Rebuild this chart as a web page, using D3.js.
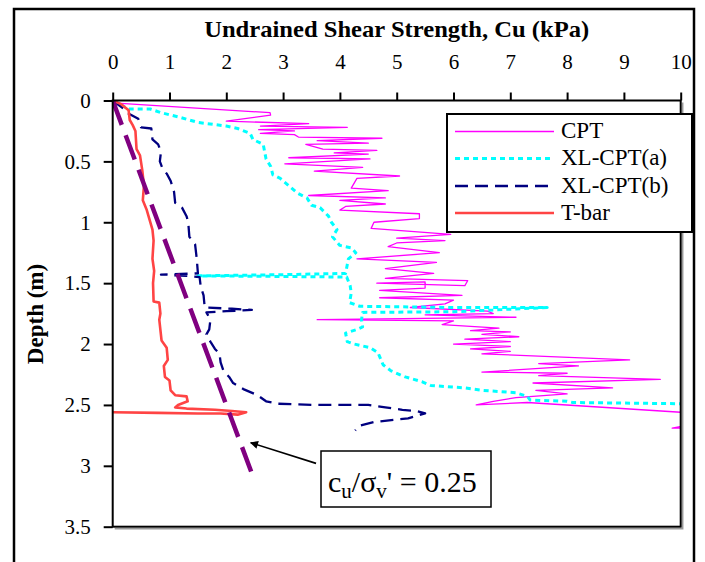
<!DOCTYPE html>
<html><head><meta charset="utf-8">
<script src="https://cdn.jsdelivr.net/npm/d3@7"></script>
<style>html,body{margin:0;padding:0;background:#fff;}svg{display:block;}
text{font-family:"Liberation Serif","Times New Roman",Tinos,serif !important;}</style>
</head><body>
<script>
// ---- DATA: [Cu (kPa), depth (m)] ----
const xTicks = [0,1,2,3,4,5,6,7,8,9,10];
const yTicks = [0,0.5,1,1.5,2,2.5,3,3.5];
const seriesNames = ["CPT","XL-CPT(a)","XL-CPT(b)","T-bar"];

const cpt = [[0,0],[0,0.02],[0.7,0.04],[2.77,0.1],[2.78,0.12],[2.0,0.17],[3.45,0.19],[2.6,0.21],[4.13,0.22],[2.57,0.24],[3.2,0.25],[2.6,0.27],[3.2,0.28],[3.27,0.3],[4.74,0.31],[3.6,0.33],[4.5,0.35],[3.4,0.36],[3.7,0.4],[4.65,0.41],[3.9,0.43],[4.5,0.44],[3.1,0.47],[4.53,0.48],[3.03,0.52],[4.4,0.55],[3.55,0.58],[5.05,0.62],[4.3,0.64],[4.2,0.72],[4.85,0.74],[3.45,0.78],[4.8,0.8],[4.0,0.82],[4.8,0.85],[4.1,0.87],[4.0,0.9],[5.4,0.93],[5.4,0.97],[4.6,1.0],[4.55,1.05],[5.95,1.1],[5.0,1.13],[5.85,1.15],[5.0,1.17],[4.85,1.2],[5.75,1.25],[4.3,1.3],[5.7,1.33],[4.8,1.38],[5.65,1.42],[4.8,1.46],[6.25,1.48],[6.2,1.52],[4.65,1.5],[5.5,1.49],[5.5,1.54],[4.7,1.56],[6.15,1.6],[4.7,1.62],[6.0,1.64],[5.85,1.67],[5.24,1.7],[6.6,1.73],[6.7,1.75],[5.5,1.76],[7.1,1.78],[3.6,1.8],[6.0,1.81],[5.8,1.84],[6.8,1.87],[6.3,1.89],[7.0,1.9],[6.5,1.92],[7.15,1.94],[6.2,1.96],[7.0,1.98],[6.0,2.0],[7.0,2.02],[6.3,2.04],[7.0,2.06],[6.5,2.08],[9.1,2.13],[7.5,2.16],[8.2,2.18],[6.5,2.23],[8.0,2.24],[7.5,2.26],[9.64,2.29],[7.4,2.32],[8.8,2.36],[7.45,2.38],[8.0,2.41],[7.1,2.44],[6.7,2.47],[6.4,2.5],[7.3,2.48],[10,2.56],[10.6,2.62],[9.85,2.69],[10.3,2.69]];

const xlA = [[0,0],[0.2,0.05],[0.3,0.07],[0.66,0.07],[0.85,0.1],[1.2,0.14],[1.5,0.18],[2.0,0.21],[2.2,0.23],[2.42,0.27],[2.47,0.32],[2.65,0.36],[2.7,0.48],[2.78,0.54],[2.82,0.61],[2.95,0.64],[3.15,0.72],[3.25,0.76],[3.42,0.8],[3.5,0.86],[3.65,0.88],[3.8,0.95],[3.85,1.0],[3.95,1.06],[3.87,1.12],[4.0,1.19],[4.2,1.21],[4.28,1.25],[4.15,1.3],[4.1,1.42],[3.0,1.43],[1.5,1.44],[3.0,1.445],[4.12,1.45],[4.18,1.52],[4.2,1.58],[4.17,1.66],[4.35,1.69],[6.0,1.7],[7.65,1.7],[6.0,1.735],[4.4,1.74],[4.38,1.8],[4.4,1.86],[4.3,1.88],[4.1,1.91],[4.13,1.98],[4.25,2.0],[4.53,2.03],[4.67,2.07],[4.76,2.17],[4.9,2.22],[5.15,2.27],[5.3,2.29],[5.45,2.31],[5.6,2.34],[5.9,2.35],[6.2,2.36],[6.5,2.38],[7.1,2.4],[7.3,2.43],[7.35,2.46],[8.0,2.47],[8.1,2.48],[10,2.49]];

const xlB = [[0,0],[0.2,0.07],[0.25,0.1],[0.45,0.15],[0.5,0.22],[0.68,0.23],[0.7,0.32],[0.8,0.36],[0.85,0.42],[0.83,0.5],[0.87,0.55],[0.95,0.6],[1.02,0.66],[1.08,0.75],[1.1,0.84],[1.22,0.88],[1.3,0.95],[1.33,1.0],[1.35,1.12],[1.45,1.18],[1.48,1.3],[1.5,1.42],[0.85,1.43],[1.3,1.44],[1.53,1.45],[1.55,1.53],[1.6,1.6],[1.62,1.7],[2.1,1.71],[2.45,1.72],[2.0,1.73],[1.65,1.74],[1.72,1.8],[1.7,1.88],[1.65,1.92],[1.72,1.98],[1.8,2.04],[1.88,2.08],[1.9,2.15],[1.95,2.22],[2.05,2.27],[2.12,2.32],[2.3,2.37],[2.55,2.42],[2.7,2.47],[2.9,2.49],[3.5,2.5],[4.5,2.5],[4.8,2.52],[5.1,2.54],[5.35,2.55],[5.5,2.57],[5.2,2.61],[4.6,2.64],[4.35,2.67],[4.27,2.71]];

const tbar = [[0,0],[0.15,0.03],[0.28,0.08],[0.3,0.16],[0.35,0.2],[0.4,0.25],[0.42,0.4],[0.48,0.45],[0.52,0.57],[0.55,0.7],[0.53,0.82],[0.6,0.9],[0.65,0.98],[0.7,1.06],[0.72,1.15],[0.7,1.3],[0.73,1.4],[0.71,1.5],[0.72,1.65],[0.82,1.66],[0.84,1.75],[0.82,1.8],[0.86,1.97],[0.95,2.03],[0.97,2.13],[0.9,2.18],[0.92,2.27],[1.0,2.3],[1.02,2.38],[1.1,2.42],[1.3,2.43],[1.32,2.47],[1.15,2.5],[1.1,2.52],[1.3,2.53],[1.8,2.54],[2.1,2.55],[2.35,2.56],[2.2,2.58],[1.9,2.57],[1.5,2.57],[0.8,2.565],[0,2.56]];

const ratioLine = [[0,0],[2.44,3.05]];
const arrowPts = [[3.58,2.98],[2.43,2.81]];

// ---- CHART ----
const W=705,H=562;
const m={l:112.7,t:100.5,r:680.7,b:526.7};
const svg=d3.select("body").append("svg").attr("width",W).attr("height",H);
svg.append("rect").attr("width",W).attr("height",H).attr("fill","#fff");
svg.append("rect").attr("x",14).attr("y",9).attr("width",680).attr("height",580).attr("fill","none").attr("stroke","#000").attr("stroke-width",2.5);

const x=d3.scaleLinear().domain([0,10]).range([m.l,m.r]);
const y=d3.scaleLinear().domain([0,3.5]).range([m.t,m.b]);

const defs=svg.append("defs");
defs.append("clipPath").attr("id","clip").append("rect").attr("x",m.l).attr("y",m.t).attr("width",m.r-m.l).attr("height",m.b-m.t);
defs.append("marker").attr("id","arr").attr("viewBox","0 0 10 10").attr("refX",9).attr("refY",5)
  .attr("markerWidth",10).attr("markerHeight",8).attr("markerUnits","userSpaceOnUse").attr("orient","auto")
  .append("path").attr("d","M0,0L10,5L0,10z").attr("fill","#000");

svg.append("path").attr("d",`M${m.r+2},${m.t+2}V${m.b+2}H${m.l+2}`).attr("fill","none").attr("stroke","#999").attr("stroke-width",1.5);
svg.append("rect").attr("x",m.l).attr("y",m.t).attr("width",m.r-m.l).attr("height",m.b-m.t).attr("fill","#fff").attr("stroke","none");

const line=d3.line().x(d=>x(d[0])).y(d=>y(d[1]));
const g=svg.append("g").attr("clip-path","url(#clip)");
const styles=[
 {data:cpt,stroke:"#FF00FF",w:1.3,dash:null},
 {data:xlA,stroke:"#00FFFF",w:3,dash:"5,4"},
 {data:xlB,stroke:"#000080",w:2.3,dash:"13,7"},
 {data:tbar,stroke:"#FF4444",w:2.6,dash:null}
];
styles.forEach(s=>{
  g.append("path").datum(s.data).attr("d",line).attr("fill","none").attr("stroke",s.stroke)
   .attr("stroke-width",s.w).attr("stroke-dasharray",s.dash).attr("stroke-linejoin","round");
});
g.append("path").datum(ratioLine).attr("d",line).attr("fill","none").attr("stroke","#800080").attr("stroke-width",4.5).attr("stroke-dasharray","26,11");

svg.append("rect").attr("x",m.l).attr("y",m.t).attr("width",m.r-m.l).attr("height",m.b-m.t).attr("fill","none").attr("stroke","#000").attr("stroke-width",2);

const xAxis=svg.append("g").attr("transform",`translate(0,${m.t})`).call(d3.axisTop(x).tickValues(xTicks).tickSize(8).tickPadding(24).tickFormat(d3.format("d")));
const yAxis=svg.append("g").attr("transform",`translate(${m.l},0)`).call(d3.axisLeft(y).tickValues(yTicks).tickSize(9).tickPadding(13).tickFormat(d=>String(d)));
[xAxis,yAxis].forEach(a=>{a.attr("font-family",null);a.select(".domain").remove();a.selectAll("line").attr("stroke","#000").attr("stroke-width",2);
  a.selectAll("text").attr("font-size",21).attr("fill","#000");});

svg.append("text").attr("x",(m.l+m.r)/2).attr("y",37).attr("text-anchor","middle").attr("font-weight","bold").attr("font-size",24)
  .attr("textLength",385).attr("lengthAdjust","spacingAndGlyphs").text("Undrained Shear Strength, Cu (kPa)");
svg.append("text").attr("transform","translate(43,314) rotate(-90)").attr("text-anchor","middle").attr("font-weight","bold").attr("font-size",23).text("Depth (m)");

const lg=svg.append("g");
lg.append("rect").attr("x",447).attr("y",114).attr("width",245).attr("height",118).attr("fill","#fff").attr("stroke","#000").attr("stroke-width",2);
const ly=[131.5,158.5,186,213];
styles.forEach((s,i)=>{
  lg.append("line").attr("x1",455).attr("x2",554).attr("y1",ly[i]).attr("y2",ly[i]).attr("stroke",s.stroke).attr("stroke-width",s.w).attr("stroke-dasharray",s.dash);
  lg.append("text").attr("x",561).attr("y",ly[i]+6.5).attr("font-size",23).text(seriesNames[i]);
});

svg.append("line").attr("x1",x(arrowPts[0][0])).attr("y1",y(arrowPts[0][1])).attr("x2",x(arrowPts[1][0])).attr("y2",y(arrowPts[1][1]))
  .attr("stroke","#000").attr("stroke-width",1.6).attr("marker-end","url(#arr)");
svg.append("rect").attr("x",321).attr("y",451).attr("width",170).attr("height",56).attr("fill","#fff").attr("stroke","#000").attr("stroke-width",1.5);
const t=svg.append("text").attr("x",328).attr("y",492).attr("font-size",30);
t.append("tspan").text("c");
t.append("tspan").attr("font-size",21).attr("dy",6).text("u");
t.append("tspan").attr("dy",-6).text("/σ");
t.append("tspan").attr("font-size",21).attr("dy",6).text("v");
t.append("tspan").attr("dy",-6).text("' = 0.25");
</script>
</body></html>
